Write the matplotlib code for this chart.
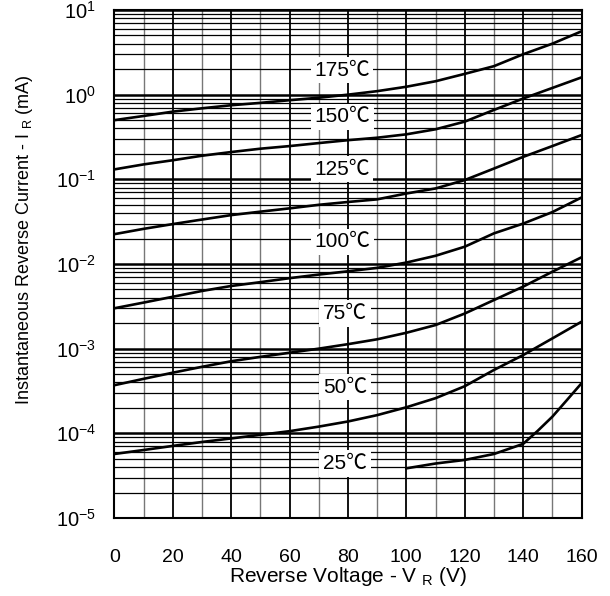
import numpy as np
import matplotlib
matplotlib.use("Agg")
import matplotlib.pyplot as plt
from matplotlib.ticker import LogLocator, MultipleLocator, NullFormatter

plt.rcParams['font.family'] = ['Liberation Sans', 'DejaVu Sans']

V = [0, 10, 20, 30, 40, 50, 60, 70, 80, 90, 100, 110, 120, 130, 140, 150, 160]
ir_175 = [0.50, 0.56, 0.63, 0.69, 0.75, 0.80, 0.86, 0.92, 1.0, 1.1, 1.24, 1.44, 1.76, 2.17, 3.0, 4.0, 5.6]
ir_150 = [0.131, 0.15, 0.168, 0.19, 0.21, 0.23, 0.247, 0.268, 0.29, 0.31, 0.34, 0.39, 0.48, 0.66, 0.90, 1.2, 1.6]
ir_125 = [0.0225, 0.026, 0.0296, 0.0335, 0.0378, 0.0415, 0.0454, 0.050, 0.054, 0.058, 0.068, 0.078, 0.098, 0.134, 0.184, 0.247, 0.333]
ir_100 = [0.0030, 0.0035, 0.0041, 0.0048, 0.0055, 0.0061, 0.0068, 0.0075, 0.0082, 0.009, 0.0104, 0.0125, 0.016, 0.023, 0.030, 0.041, 0.061]
ir_75 = [3.7e-4, 4.4e-4, 5.2e-4, 6.1e-4, 7.1e-4, 8.0e-4, 8.95e-4, 1.0e-3, 1.13e-3, 1.29e-3, 1.54e-3, 1.9e-3, 2.6e-3, 3.75e-3, 5.4e-3, 8.1e-3, 0.012]
ir_50 = [5.7e-5, 6.35e-5, 7.1e-5, 7.9e-5, 8.7e-5, 9.6e-5, 1.06e-4, 1.2e-4, 1.38e-4, 1.64e-4, 2.03e-4, 2.6e-4, 3.6e-4, 5.6e-4, 8.4e-4, 1.32e-3, 2.08e-3]
V_25 = [100, 110, 120, 130, 140, 145, 150, 155, 160]
ir_25 = [3.86e-5, 4.4e-5, 4.85e-5, 5.7e-5, 7.5e-5, 1.07e-4, 1.57e-4, 2.47e-4, 3.9e-4]

labels = ['175℃', '150℃', '125℃', '100℃', '75℃', '50℃', '25℃']
label_x = [78, 78, 78, 78, 79, 79, 79]
label_y = [1.95, 0.55, 0.132, 0.0183, 2.6e-3, 3.5e-4, 4.4e-5]

fig = plt.figure(figsize=(6.1, 5.96), dpi=100)
ax = fig.add_axes([114.3/610, 1 - 518/596, (581.5-114.3)/610, 508/596])
ax.set_yscale('log')
ax.set_xlim(0, 160)
ax.set_ylim(1e-5, 10)

ax.xaxis.set_major_locator(MultipleLocator(20))
ax.xaxis.set_minor_locator(MultipleLocator(10))
ax.yaxis.set_major_locator(LogLocator(base=10, numticks=20))
ax.yaxis.set_minor_locator(LogLocator(base=10, subs=np.arange(2, 10), numticks=100))
ax.yaxis.set_minor_formatter(NullFormatter())

ax.grid(which='major', axis='x', color='black', lw=1.3)
ax.grid(which='minor', axis='x', color='#777777', lw=1.0)
ax.grid(which='major', axis='y', color='black', lw=1.8)
ax.grid(which='minor', axis='y', color='black', lw=0.9)
ax.set_axisbelow(True)

for s in ax.spines.values():
    s.set_linewidth(1.5)

ax.tick_params(which='both', length=0)
ax.tick_params(axis='x', labelsize=14, pad=22)
ax.tick_params(axis='y', labelsize=14.5, pad=13)

for series in [ir_175, ir_150, ir_125, ir_100, ir_75, ir_50]:
    ax.plot(V, series, color='black', lw=1.9, zorder=3)
ax.plot(V_25, ir_25, color='black', lw=1.9, zorder=3)

for t, x, y in zip(labels, label_x, label_y):
    ax.text(x, y, t, ha='center', va='center', fontsize=15, zorder=4,
            family=['Liberation Sans', 'Noto Sans CJK SC'],
            bbox=dict(facecolor='white', edgecolor='none', pad=2.5))

fig.text(25/610, 1 - 240/596, 'Instantaneous Reverse Current - I $_\\mathregular{R}$ (mA)',
         rotation=90, ha='center', va='center', fontsize=13)
fig.text(348/610, 1 - 577/596, 'Reverse Voltage - V $_\\mathregular{R}$ (V)',
         ha='center', va='center', fontsize=15)

fig.savefig('out.png', dpi=100)
